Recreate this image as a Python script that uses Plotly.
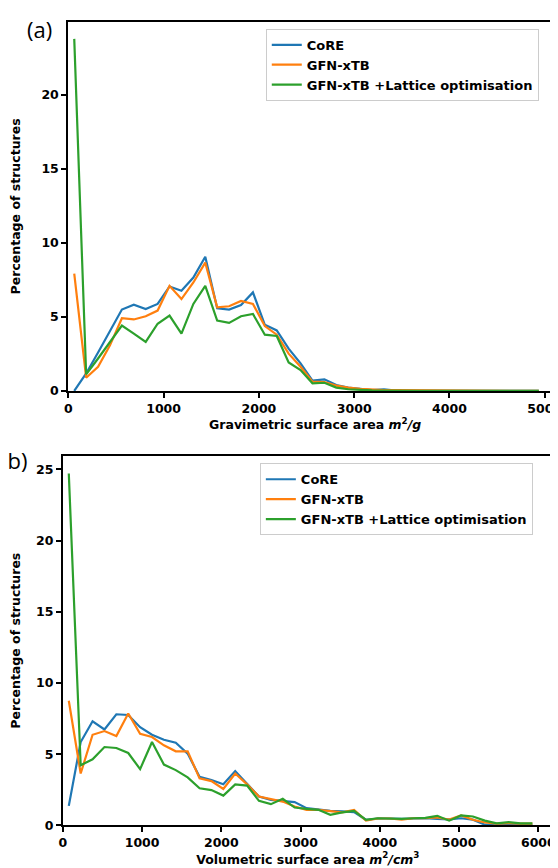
import plotly.graph_objects as go

# ---------------- data ----------------
grav_x = [62.5, 187.5, 312.5, 437.5, 562.5, 687.5, 812.5, 937.5, 1062.5, 1187.5,
          1312.5, 1437.5, 1562.5, 1687.5, 1812.5, 1937.5, 2062.5, 2187.5, 2312.5, 2437.5,
          2562.5, 2687.5, 2812.5, 2937.5, 3062.5, 3187.5, 3312.5, 3437.5, 3562.5, 3687.5,
          3812.5, 3937.5, 4062.5, 4187.5, 4312.5, 4437.5, 4562.5, 4687.5, 4812.5, 4937.5]
grav_core = [0.0, 1.18, 2.6, 4.05, 5.5, 5.83, 5.54, 5.88, 7.06, 6.77,
             7.66, 9.07, 5.58, 5.5, 5.81, 6.66, 4.47, 4.09, 2.86, 1.86,
             0.69, 0.78, 0.4, 0.22, 0.14, 0.05, 0.1, 0.02, 0.0, 0.0,
             0.0, 0.0, 0.0, 0.0, 0.0, 0.0, 0.0, 0.0, 0.0, 0.0]
grav_gfn = [7.93, 0.89, 1.63, 3.08, 4.91, 4.83, 5.05, 5.43, 7.1, 6.21,
            7.33, 8.67, 5.65, 5.72, 6.08, 5.88, 4.38, 3.8, 2.52, 1.63,
            0.63, 0.6, 0.36, 0.22, 0.14, 0.08, 0.05, 0.05, 0.05, 0.03,
            0.0, 0.0, 0.0, 0.0, 0.0, 0.0, 0.0, 0.0, 0.0, 0.0]
grav_lat = [23.8, 1.12, 2.19, 3.3, 4.42, 3.87, 3.31, 4.54, 5.09, 3.87,
            5.88, 7.1, 4.76, 4.6, 5.05, 5.2, 3.8, 3.71, 1.92, 1.41,
            0.51, 0.55, 0.22, 0.11, 0.05, 0.03, 0.02, 0.0, 0.0, 0.0,
            0.0, 0.0, 0.0, 0.0, 0.0, 0.0, 0.0, 0.0, 0.0, 0.0]

vol_x = [75, 225, 375, 525, 675, 825, 975, 1125, 1275, 1425,
         1575, 1725, 1875, 2025, 2175, 2325, 2475, 2625, 2775, 2925,
         3075, 3225, 3375, 3525, 3675, 3825, 3975, 4125, 4275, 4425,
         4575, 4725, 4875, 5025, 5175, 5325, 5475, 5625, 5775, 5925]
vol_core = [1.37, 5.85, 7.31, 6.73, 7.8, 7.75, 6.89, 6.36, 6.01, 5.8,
            5.04, 3.41, 3.18, 2.88, 3.81, 2.95, 2.02, 1.79, 1.72, 1.63,
            1.21, 1.09, 1.02, 0.98, 0.93, 0.39, 0.48, 0.48, 0.45, 0.48,
            0.5, 0.45, 0.42, 0.5, 0.4, 0.05, 0.0, 0.05, 0.02, 0.02]
vol_gfn = [8.75, 3.64, 6.36, 6.62, 6.27, 7.85, 6.43, 6.2, 5.62, 5.2,
           5.2, 3.3, 3.11, 2.55, 3.64, 2.88, 2.02, 1.86, 1.67, 1.32,
           1.09, 1.09, 0.98, 0.91, 1.09, 0.33, 0.48, 0.48, 0.4, 0.5,
           0.5, 0.55, 0.4, 0.7, 0.39, 0.2, 0.12, 0.16, 0.12, 0.12]
vol_lat = [24.7, 4.22, 4.64, 5.5, 5.43, 5.08, 3.95, 5.85, 4.27, 3.88,
           3.37, 2.6, 2.48, 2.09, 2.88, 2.79, 1.72, 1.49, 1.86, 1.25,
           1.16, 1.09, 0.74, 0.91, 1.02, 0.39, 0.5, 0.48, 0.45, 0.5,
           0.52, 0.67, 0.33, 0.7, 0.62, 0.33, 0.14, 0.23, 0.14, 0.14]

series_names = ["CoRE", "GFN-xTB", "GFN-xTB +Lattice optimisation"]
colors = ["#1f77b4", "#ff7f0e", "#2ca02c"]

grav_ticks = [0, 1000, 2000, 3000, 4000, 5000]
vol_ticks = [0, 1000, 2000, 3000, 4000, 5000, 6000]
grav_yticks = [0, 5, 10, 15, 20]
vol_yticks = [0, 5, 10, 15, 20, 25]

# ---------------- figure ----------------
W, H = 558, 868
FONT = "DejaVu Sans"

fig = go.Figure()
for name, ys, c in zip(series_names, [grav_core, grav_gfn, grav_lat], colors):
    fig.add_trace(go.Scatter(x=grav_x, y=ys, mode="lines", name=name,
                             line=dict(color=c, width=2.2),
                             xaxis="x", yaxis="y", legend="legend"))
for name, ys, c in zip(series_names, [vol_core, vol_gfn, vol_lat], colors):
    fig.add_trace(go.Scatter(x=vol_x, y=ys, mode="lines", name=name,
                             line=dict(color=c, width=2.2),
                             xaxis="x2", yaxis="y2", legend="legend2"))


def px_x(p):
    return p / W


def px_y(p):
    return 1 - p / H


axis_common = dict(
    showline=True, linecolor="black", linewidth=2, mirror=True,
    ticks="outside", ticklen=5, tickwidth=1.5, tickcolor="black",
    showgrid=False, zeroline=False,
    tickfont=dict(family=FONT, size=12.5, color="black", weight="bold"),
)
title_font = dict(family=FONT, size=12.5, color="black", weight="bold")

fig.update_layout(
    width=W, height=H,
    margin=dict(l=0, r=0, t=0, b=0),
    paper_bgcolor="white", plot_bgcolor="white",
    showlegend=True,
    xaxis=dict(domain=[px_x(57), px_x(557)], range=[0, 5181], anchor="y",
               tickvals=grav_ticks,
               title=dict(text="Gravimetric surface area <i>m</i><sup>2</sup><i>/g</i>",
                          font=title_font, standoff=4),
               **axis_common),
    yaxis=dict(domain=[px_y(386), px_y(14)], range=[0, 24.95], anchor="x",
               tickvals=grav_yticks,
               title=dict(text="Percentage of structures", font=title_font, standoff=18),
               **axis_common),
    xaxis2=dict(domain=[px_x(51.5), px_x(547.7)], range=[0, 6183], anchor="y2",
                tickvals=vol_ticks,
                title=dict(text="Volumetric surface area <i>m</i><sup>2</sup><i>/cm</i><sup>3</sup>",
                           font=title_font, standoff=4),
                **axis_common),
    yaxis2=dict(domain=[px_y(824), px_y(451.7)], range=[0, 25.93], anchor="x2",
                tickvals=vol_yticks,
                title=dict(text="Percentage of structures", font=title_font, standoff=16),
                **axis_common),
    legend=dict(x=px_x(257), y=px_y(21), xanchor="left", yanchor="top",
                bgcolor="white", bordercolor="#cccccc", borderwidth=1,
                font=dict(family=FONT, size=13, color="black", weight="bold"),
                itemwidth=30, tracegroupgap=0),
    legend2=dict(x=px_x(251), y=px_y(459), xanchor="left", yanchor="top",
                 bgcolor="white", bordercolor="#cccccc", borderwidth=1,
                 font=dict(family=FONT, size=13, color="black", weight="bold"),
                 itemwidth=30, tracegroupgap=0),
    annotations=[
        dict(text="(a)", xref="paper", yref="paper", x=px_x(28), y=px_y(21),
             xanchor="center", yanchor="middle", showarrow=False,
             font=dict(family="Open Sans", size=22, color="black")),
        dict(text="(b)", xref="paper", yref="paper", x=px_x(17), y=px_y(456),
             xanchor="right", yanchor="middle", showarrow=False,
             font=dict(family="Open Sans", size=22, color="black")),
    ],
)

fig.write_html("out.html")
